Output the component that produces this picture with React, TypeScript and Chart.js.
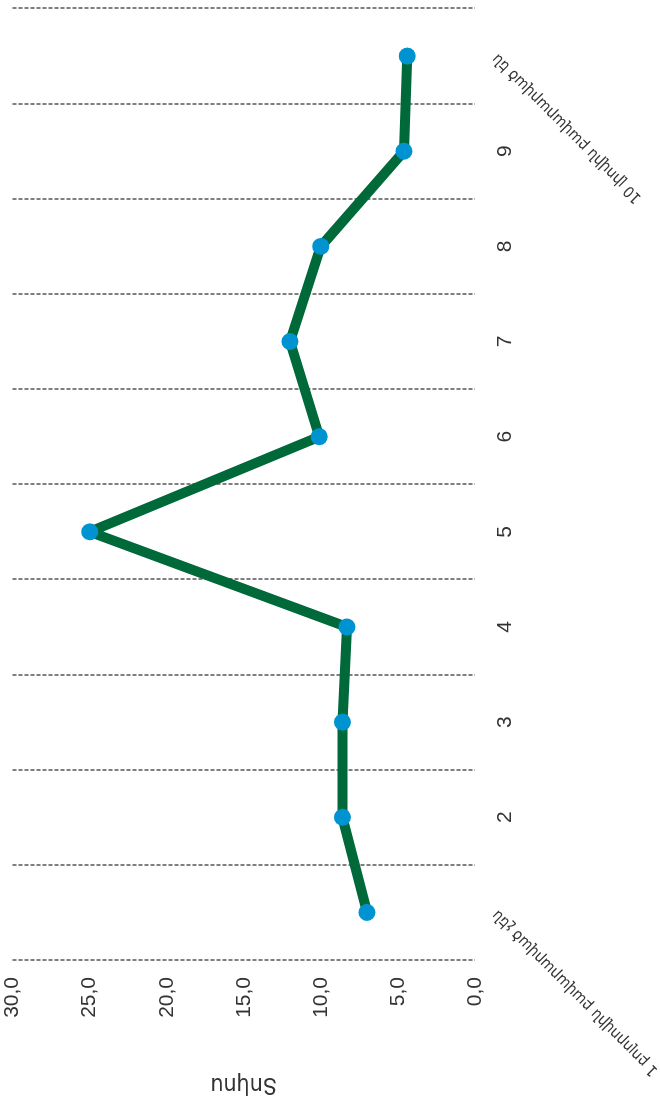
import React, { useEffect, useRef } from 'react';
import { Chart, registerables } from 'chart.js';

Chart.register(...registerables);

const categories = [
  '1 բոլորովին բավարարված չեն',
  '2',
  '3',
  '4',
  '5',
  '6',
  '7',
  '8',
  '9',
  '10 լիովին բավարարված են',
];
const values = [7.0, 8.6, 8.6, 8.3, 25.0, 10.1, 12.0, 10.0, 4.6, 4.4];
const valueMin = 0;
const valueMax = 30;
const valueStep = 5;
const axisTitle = 'Տոկոս';

const TEXT = '#333333';
const LINE = '#00693a';
const DOT = '#0093d2';
const GRID = '#7f7f7f';

const catLabelPlugin = {
  id: 'catLabels',
  afterDraw(chart: any) {
    const { ctx, chartArea } = chart;
    const x = chart.scales.x;
    ctx.save();
    ctx.fillStyle = TEXT;
    (chart.data.labels as string[]).forEach((lab, i) => {
      const px = x.getPixelForTick(i);
      if (lab.length > 3) {
        ctx.save();
        ctx.translate(px, chartArea.bottom + 20);
        ctx.rotate(-Math.PI / 4);
        ctx.font = '15.5px "DejaVu Sans Condensed", "DejaVu Sans", sans-serif';
        ctx.textAlign = 'right';
        ctx.textBaseline = 'middle';
        ctx.fillText(lab, 0, 0);
        ctx.restore();
      } else {
        ctx.font = '21px "Liberation Sans", Arial, sans-serif';
        ctx.textAlign = 'center';
        ctx.textBaseline = 'middle';
        ctx.fillText(lab, px, chartArea.bottom + 30);
      }
    });
    ctx.restore();
  },
};

export default function App() {
  const ref = useRef<HTMLCanvasElement | null>(null);

  useEffect(() => {
    if (!ref.current) return;
    const chart = new Chart(ref.current, {
      type: 'line',
      data: {
        labels: categories,
        datasets: [
          {
            data: values,
            borderColor: LINE,
            borderWidth: 10,
            borderJoinStyle: 'round',
            pointRadius: 8.5,
            pointBackgroundColor: DOT,
            pointBorderWidth: 0,
            tension: 0,
            fill: false,
          },
        ],
      },
      options: {
        responsive: false,
        animation: false,
        layout: { padding: { left: 0, right: 8, top: 10, bottom: 0 } },
        plugins: {
          legend: { display: false },
          tooltip: { enabled: false },
        },
        scales: {
          x: {
            type: 'category',
            offset: true,
            grid: { offset: true, color: GRID, lineWidth: 2, drawTicks: false },
            border: { display: false, dash: [4, 2] },
            ticks: { display: false },
            afterFit: (s: any) => {
              s.height = 185;
            },
          },
          y: {
            min: valueMin,
            max: valueMax,
            grid: { display: false, drawTicks: true, tickLength: 17 },
            border: { display: false },
            ticks: {
              stepSize: valueStep,
              padding: 0,
              color: TEXT,
              font: { family: '"Liberation Sans", Arial, sans-serif', size: 21 },
              callback: (v: any) => Number(v).toFixed(1).replace('.', ','),
            },
            title: {
              display: true,
              text: axisTitle,
              color: TEXT,
              font: { family: '"DejaVu Sans Condensed", "DejaVu Sans", sans-serif', size: 23 },
              padding: { top: 9, bottom: 0 },
            },
            afterFit: (s: any) => {
              s.width = 147;
            },
          },
        },
      },
      plugins: [catLabelPlugin],
    });
    return () => chart.destroy();
  }, []);

  return (
    <div style={{ position: 'absolute', left: 0, top: 0, width: 660, height: 1107, overflow: 'hidden', background: '#fff' }}>
      <div
        style={{
          position: 'absolute',
          left: 0,
          top: 0,
          width: 1107,
          height: 660,
          transformOrigin: '0 0',
          transform: 'translateY(1107px) rotate(-90deg)',
        }}
      >
        <canvas ref={ref} width={1107} height={660} style={{ display: 'block' }} />
      </div>
    </div>
  );
}
